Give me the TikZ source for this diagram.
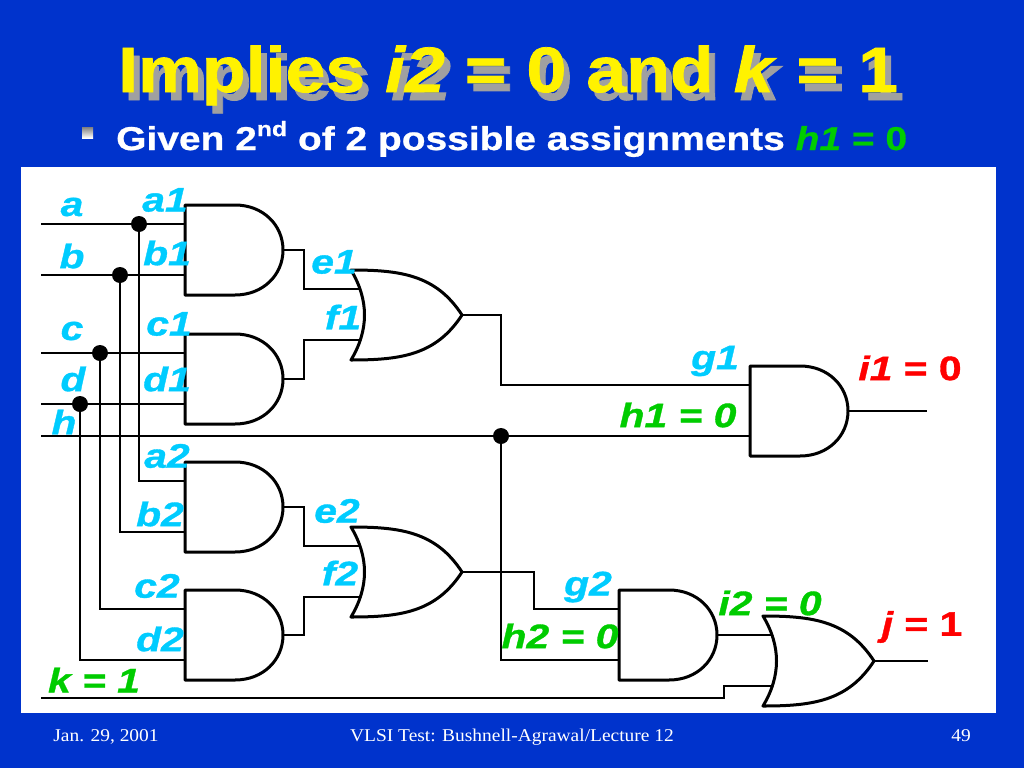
\documentclass[tikz,border=0pt]{standalone}
\usepackage{fontspec}
\setmainfont{Liberation Sans}
\newfontfamily\serf[FakeStretch=1.08]{Liberation Serif}
\newfontfamily\fatf[FakeBold=1.2,FakeStretch=1.12]{Liberation Sans}
\newfontfamily\medf[FakeBold=1.0,FakeStretch=1.2]{Liberation Sans}
\newfontfamily\subf[FakeBold=0.8,FakeStretch=1.18]{Liberation Sans}
\definecolor{slide}{HTML}{0033CC}
\definecolor{sky}{HTML}{00CCFF}
\definecolor{grn}{HTML}{00CC00}
\definecolor{shade}{HTML}{A0A0A0}
\tikzset{
  x=1pt,y=-1pt,
  wire/.style={line width=2.6pt,line join=miter,black},
  gateline/.style={line width=3pt,line join=round,fill=white,draw=black},
  junction/.style={circle,fill=black,inner sep=0pt,minimum size=16pt},
  lab/.style={font=\medf\bfseries\itshape\fontsize{34}{34}\selectfont,inner sep=0pt},
  sig/.style={lab,text=sky},
  val/.style={lab,text=grn},
  bad/.style={lab,text=red},
  foot/.style={font=\serf\fontsize{18}{18}\selectfont,text=white,inner sep=0pt,anchor=base},
  ttl/.style={font=\fatf\bfseries\fontsize{64}{64}\selectfont,inner sep=0pt,anchor=base west},
  sub/.style={font=\subf\bfseries\fontsize{33}{33}\selectfont,inner sep=0pt,anchor=base west},
  andgate/.pic={
    \path[gateline] (0,0) -- (50,0) .. controls (78,0) and (98,20) .. (98,45)
       .. controls (98,70) and (78,90) .. (50,90) -- (0,90) -- cycle;
    \coordinate (-a) at (0,19);
    \coordinate (-b) at (0,70);
    \coordinate (-o) at (98,45);
  },
  orgate/.pic={
    \path[gateline] (0,0) .. controls (50,0) and (85,5) .. (111,45)
       .. controls (85,85) and (50,90) .. (0,90)
       .. controls (18,60) and (18,30) .. (0,0) -- cycle;
    \coordinate (-a) at (9,19);
    \coordinate (-b) at (9,70);
    \coordinate (-o) at (111,45);
  }
}
\begin{document}
\begin{tikzpicture}
\useasboundingbox (0,0) rectangle (1024,768);
\fill[slide] (0,0) rectangle (1024,768);
\fill[white] (21,167) rectangle (996,713);

% title
\node[ttl,text=shade] (titleshadow) at (124,100) {Implies \textit{i2} = 0 and \textit{k} = 1};
\node[ttl,text=yellow] (title) at (118,92) {Implies \textit{i2} = 0 and \textit{k} = 1};
\fill[shade] (82,127) rectangle (93,138);
\node[sub,text=white] (subtitle) at (116,150) {Given 2\raisebox{0.42em}{\fontsize{21}{21}\selectfont nd} of 2 possible assignments \textcolor{grn}{\textit{h1}} \textcolor{grn}{= 0}};

% free ends
\coordinate (ina) at (41,224);
\coordinate (inb) at (41,275);
\coordinate (inc) at (41,353);
\coordinate (ind) at (41,404);
\coordinate (inh) at (41,436);
\coordinate (ink) at (41,698);
\coordinate (endi) at (927,411);
\coordinate (endj) at (928,661);

\pic (A1) at (185,205) {andgate};
\pic (B1) at (185,334) {andgate};
\pic (A2) at (185,462) {andgate};
\pic (B2) at (185,590) {andgate};
\pic (O1) at (351,270) {orgate};
\pic (O2) at (351,527) {orgate};
\pic (G1) at (750,366) {andgate};
\pic (G2) at (619,590) {andgate};
\pic (O3) at (763,616) {orgate};

\draw[wire] (ina) -- (A1-a);
\draw[wire] (inb) -- (A1-b);
\draw[wire] (inc) -- (B1-a);
\draw[wire] (ind) -- (B1-b);
\draw[wire] (inh) -- (G1-b);

\node[junction] (ja) at (139,224) {};
\node[junction] (jb) at (120,275) {};
\node[junction] (jc) at (100,353) {};
\node[junction] (jd) at (80,404) {};
\node[junction] (jh) at (501,436) {};

\draw[wire] (ja) |- (A2-a);
\draw[wire] (jb) |- (A2-b);
\draw[wire] (jc) |- (B2-a);
\draw[wire] (jd) |- (B2-b);
\draw[wire] (A1-o) -| (304,289) -- (O1-a);
\draw[wire] (B1-o) -| (304,340) -- (O1-b);
\draw[wire] (A2-o) -| (304,546) -- (O2-a);
\draw[wire] (B2-o) -| (304,597) -- (O2-b);
\draw[wire] (O1-o) -| (501,385) -- (G1-a);
\draw[wire] (O2-o) -| (534,609) -- (G2-a);
\draw[wire] (jh) |- (G2-b);
\draw[wire] (G2-o) -- (O3-a);
\draw[wire] (ink) -| (724,686) -- (O3-b);
\draw[wire] (G1-o) -- (endi);
\draw[wire] (O3-o) -- (endj);

% labels
\node[sig] (la) at (72,207) {a};
\node[sig] (lb) at (72,256) {b};
\node[sig] (lc) at (72,331) {c};
\node[sig] (ld) at (73,379) {d};
\node[sig] (lh) at (64,422) {h};
\node[sig] (la1) at (165,200) {a1};
\node[sig] (lb1) at (167,253) {b1};
\node[sig] (lc1) at (169,324) {c1};
\node[sig] (ld1) at (167,379) {d1};
\node[sig] (la2) at (167,456) {a2};
\node[sig] (lb2) at (160,514) {b2};
\node[sig] (lc2) at (157,586) {c2};
\node[sig] (ld2) at (160,639) {d2};
\node[sig] (le1) at (334,262) {e1};
\node[sig] (lf1) at (343,317) {f1};
\node[sig] (le2) at (337,511) {e2};
\node[sig] (lf2) at (340,573) {f2};
\node[sig] (lg1) at (715,361) {g1};
\node[sig] (lg2) at (588,587) {g2};
\node[val] (lh1) at (678,415) {h1 = 0};
\node[val] (lh2) at (560,636) {h2 = 0};
\node[val] (li2) at (770,603) {i2 = 0};
\node[val] (lk) at (94,680) {k = 1};
\node[bad] (li1) at (910,368) {i1 \upshape= 0};
\node[bad] (lj) at (922,627) {j \upshape= 1};

% footer
\node[foot] (fa) at (106,741) {Jan. 29, 2001};
\node[foot] (fb) at (512,741) {VLSI Test: Bushnell-Agrawal/Lecture 12};
\node[foot] (fc) at (961,741) {49};
\end{tikzpicture}
\end{document}
